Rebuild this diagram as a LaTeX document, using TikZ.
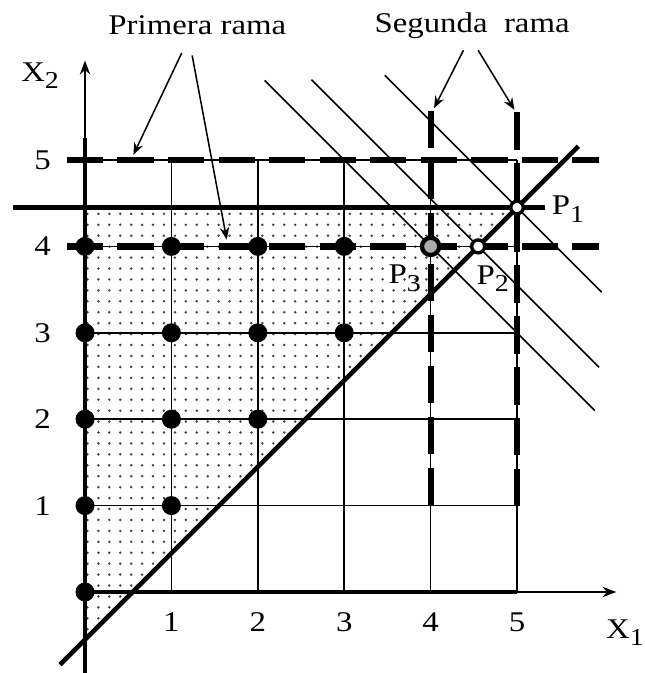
\documentclass[tikz,border=0pt]{standalone}
\usepackage{fontspec}
\setmainfont{Liberation Serif}[FakeStretch=1.15]
\usetikzlibrary{arrows.meta,patterns.meta}
\newcommand{\lowsub}[1]{\raisebox{-0.55ex}{\fontsize{8}{9}\selectfont #1}}
\begin{document}
\begin{tikzpicture}[x=1cm,y=1cm,
 gridline/.style={line width=0.5pt},
 heavy/.style={line width=1.5pt},
 axisthin/.style={line width=0.6pt,-{Stealth[length=1.6mm,width=1.2mm]}},
 hbranch/.style={line width=2.1pt, dash pattern=on 0.42cm off 0.165cm},
 vbranch/.style={line width=1.9pt, dash pattern=on 0.43cm off 0.16cm},
 objline/.style={line width=0.55pt},
 intpt/.style={circle, fill=black, inner sep=0pt, minimum size=0.22cm},
 openpt/.style={circle, draw=black, fill=white, line width=1.1pt, inner sep=0pt},
 lab/.style={font=\fontsize{9.4}{11}\selectfont, inner sep=1pt},
 callout/.style={line width=0.5pt, -{Stealth[length=1.4mm,width=1.1mm]}},
]
\useasboundingbox (-0.984,-0.9375) rectangle (6.470,6.852);

% feasible region (dotted)
\fill[pattern={Dots[radius=0.45pt,distance=3.6pt]}, pattern color=black!75] (0,-0.55) -- (0,4.45) -- (5,4.45) -- cycle;

% grid
\foreach \i in {1,...,5} \draw[gridline] (\i,0) -- (\i,5);
\foreach \j in {1,...,5} \draw[gridline] (0,\j) -- (5,\j);

% branches
\draw[hbranch] (-0.21,5) -- (5.95,5);
\draw[hbranch] (-0.21,4) -- (5.95,4);
\draw[vbranch] (4,5.57) -- (4,1);
\draw[vbranch] (5,5.55) -- (5,1);

% axes
\coordinate (ybot) at (0,-0.94);
\coordinate (ymid) at (0,5.25);
\coordinate (ytop) at (0,6.15);
\coordinate (O) at (0,0);
\coordinate (xmid) at (5,0);
\coordinate (xend) at (6.15,0);
\draw[heavy] (ybot) -- (ymid);
\draw[axisthin] (0,5.2) -- (ytop);
\draw[heavy] (O) -- (xmid);
\draw[axisthin] (xmid) -- (xend);

% constraint lines
\coordinate (c1a) at (-0.29,-0.84);
\coordinate (c1b) at (5.71,5.16);
\coordinate (c2a) at (-0.83,4.45);
\coordinate (c2b) at (5.32,4.45);
\draw[heavy] (c1a) -- (c1b);
\draw[heavy] (c2a) -- (c2b);

% objective lines
\draw[objline] (2.08,5.92) -- (5.9,2.1);
\draw[objline] (2.62,5.93) -- (5.95,2.6);
\draw[objline] (3.47,5.98) -- (5.98,3.47);

% integer points
\foreach \x/\y in {0/0,0/1,0/2,0/3,0/4,1/1,1/2,1/3,1/4,2/2,2/3,2/4,3/3,3/4}
  \node[intpt] (d\x\y) at (\x,\y) {};

% special points
\node[circle, draw=black, fill=black!33, line width=1.4pt, inner sep=0pt, minimum size=0.2cm] (P3) at (4,4) {};
\node[openpt, minimum size=0.15cm] (P2) at (4.55,4) {};
\node[openpt, minimum size=0.145cm] (P1) at (5,4.45) {};

\node[lab, anchor=west] (P1l) at (5.36,4.43) {P\lowsub{1}};
\node[lab] (P2l) at (4.72,3.63) {P\lowsub{2}};
\node[lab] (P3l) at (3.7,3.63) {P\lowsub{3}};

% tick labels
\foreach \j in {1,...,5} \node[lab] (ty\j) at (-0.49,\j) {\j};
\foreach \i in {1,...,5} \node[lab] (tx\i) at (\i,-0.35) {\i};
\node[lab] (X2) at (-0.52,5.98) {X\lowsub{2}};
\node[lab] (X1) at (6.25,-0.47) {X\lowsub{1}};

% branch labels and callouts
\node[lab, anchor=base] (prim) at (1.30,6.45) {Primera rama};
\node[lab, anchor=base] (seg) at (4.48,6.47) {Segunda~~rama};
\coordinate (a1s) at (1.12,6.24);
\coordinate (a1e) at (0.56,5.06);
\coordinate (a2s) at (1.24,6.21);
\coordinate (a2e) at (1.64,4.08);
\coordinate (a3s) at (4.38,6.27);
\coordinate (a3e) at (4.04,5.6);
\coordinate (a4s) at (4.55,6.27);
\coordinate (a4e) at (4.97,5.58);
\draw[callout] (a1s) -- (a1e);
\draw[callout] (a2s) -- (a2e);
\draw[callout] (a3s) -- (a3e);
\draw[callout] (a4s) -- (a4e);
\end{tikzpicture}
\end{document}
